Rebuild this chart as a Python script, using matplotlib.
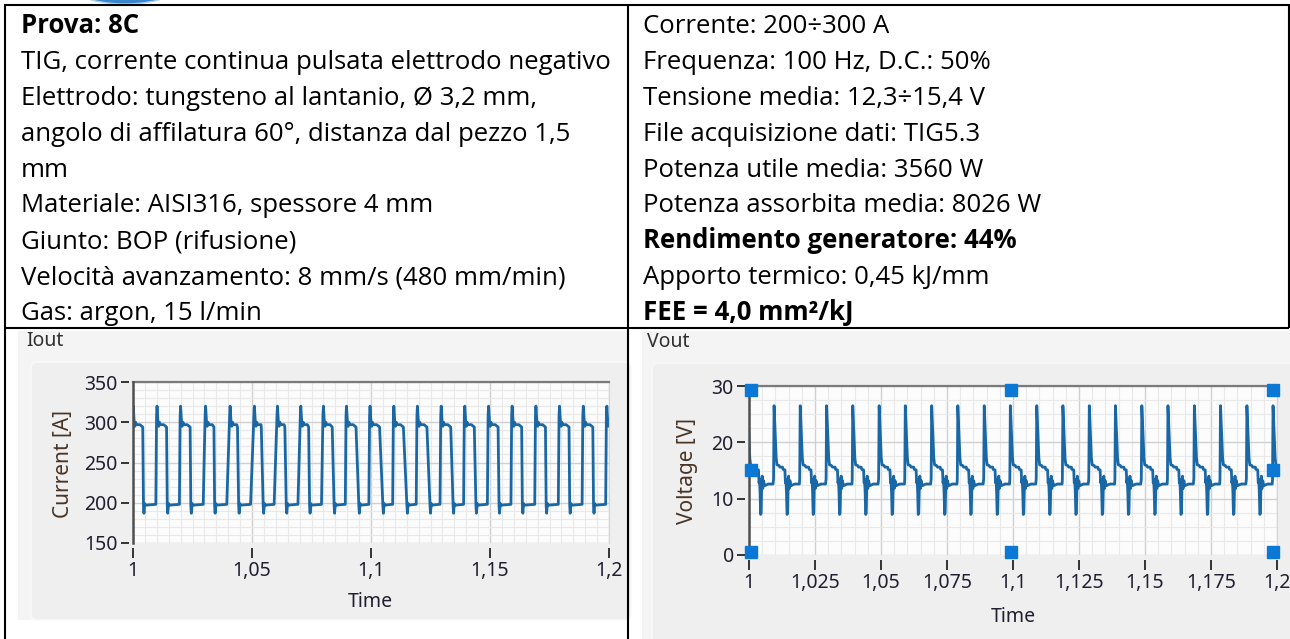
import matplotlib.pyplot as plt
from matplotlib.patches import Rectangle, FancyBboxPatch, Ellipse
from matplotlib.ticker import MultipleLocator

# --- table text (scheda prova) ---
left_lines = ["Prova: 8C",
              "TIG, corrente continua pulsata elettrodo negativo",
              "Elettrodo: tungsteno al lantanio, Ø 3,2 mm,",
              "angolo di affilatura 60°, distanza dal pezzo 1,5",
              "mm",
              "Materiale: AISI316, spessore 4 mm",
              "Giunto: BOP (rifusione)",
              "Velocità avanzamento: 8 mm/s (480 mm/min)",
              "Gas: argon, 15 l/min"]
left_bold = [True, False, False, False, False, False, False, False, False]
right_lines = ["Corrente: 200÷300 A",
               "Frequenza: 100 Hz, D.C.: 50%",
               "Tensione media: 12,3÷15,4 V",
               "File acquisizione dati: TIG5.3",
               "Potenza utile media: 3560 W",
               "Potenza assorbita media: 8026 W",
               "Rendimento generatore: 44%",
               "Apporto termico: 0,45 kJ/mm",
               "FEE = 4,0 mm²/kJ"]
right_bold = [False, False, False, False, False, False, True, False, True]

# --- waveforms ---
# start time of each pulse (100 Hz)
pulse_t = [0.9993, 1.0093, 1.0192, 1.0292, 1.0391, 1.0491, 1.0590, 1.0690, 1.0789, 1.0889,
           1.0988, 1.1088, 1.1187, 1.1287, 1.1386, 1.1486, 1.1585, 1.1685, 1.1784, 1.1884, 1.1983]
# how long each current edge takes (some look slanted)
cur_rise = [0.0003, 0.0003, 0.0003, 0.0008, 0.0012, 0.0014, 0.0012, 0.0010, 0.0006, 0.0003, 0.0003,
            0.0003, 0.0003, 0.0003, 0.0003, 0.0003, 0.0003, 0.0003, 0.0003, 0.0003, 0.0003]
cur_fall = [0.0003, 0.0003, 0.0003, 0.0003, 0.0005, 0.0008, 0.0006, 0.0004, 0.0008, 0.0012, 0.0014,
            0.0015, 0.0013, 0.0010, 0.0007, 0.0004, 0.0003, 0.0003, 0.0003, 0.0003, 0.0003]
# high part, time after the rise ends [s] / current [A]
cur_hi_dt = [0.0, 0.0002, 0.0006, 0.0009, 0.0012, 0.0016, 0.0030]
cur_hi_val = [308, 320, 300, 295, 300, 297, 297]
cur_fall_at = 0.0048     # fall starts this long after pulse start
cur_fall_top = 294
# low part, time after the fall ends
cur_lo_dt = [0.0, 0.0002, 0.0005, 0.0008]
cur_lo_val = [196, 187, 199, 197]
cur_base = 198

# voltage over one period, time after pulse start [s] / voltage [V]
volt_dt = [0.0, 0.0002, 0.0005, 0.0010, 0.0013, 0.0020, 0.0024, 0.0034, 0.0036, 0.0043, 0.0045,
           0.0047, 0.0049, 0.0051, 0.0053, 0.0055, 0.0057, 0.0059, 0.0062, 0.0066, 0.0080, 0.0098]
volt_val = [13.5, 26.5, 23.0, 17.2, 16.0, 15.9, 15.6, 15.6, 15.2, 15.1, 12.8,
            13.4, 11.0, 7.2, 7.4, 12.0, 14.0, 11.8, 13.2, 12.3, 12.6, 12.6]

cur_xticks = [1.0, 1.05, 1.1, 1.15, 1.2]
cur_xlabels = ['1', '1,05', '1,1', '1,15', '1,2']
cur_yticks = [150, 200, 250, 300, 350]
volt_xticks = [1.0, 1.025, 1.05, 1.075, 1.1, 1.125, 1.15, 1.175, 1.2]
volt_xlabels = ['1', '1,025', '1,05', '1,075', '1,1', '1,125', '1,15', '1,175', '1,2']
volt_yticks = [0, 10, 20, 30]

# build the traces pulse by pulse
t_cur, i_cur = [], []
for t0, r, f in zip(pulse_t, cur_rise, cur_fall):
    t_cur.append(t0 + 0.0003)
    i_cur.append(cur_base)
    up = t0 + 0.0003 + r
    for dt, v in zip(cur_hi_dt, cur_hi_val):
        if up + dt < t0 + cur_fall_at:
            t_cur.append(up + dt)
            i_cur.append(v)
    t_cur.append(t0 + cur_fall_at)
    i_cur.append(cur_fall_top)
    down = t0 + cur_fall_at + f
    for dt, v in zip(cur_lo_dt, cur_lo_val):
        t_cur.append(down + dt)
        i_cur.append(v)
    t_cur.append(t0 + 0.0098)
    i_cur.append(cur_base)

t_volt, v_volt = [], []
for t0 in pulse_t:
    for dt, v in zip(volt_dt, volt_val):
        t_volt.append(t0 + dt)
        v_volt.append(v)

W, H = 1290, 639
LINE = '#1a67a6'
TXT = '#221e30'
PFONT = 'Noto Sans'
TFONT = 'Open Sans'
PSIZE = 14

fig = plt.figure(figsize=(W / 100, H / 100), dpi=100)
bg = fig.add_axes([0, 0, 1, 1])
bg.set_xlim(0, W)
bg.set_ylim(H, 0)
bg.axis('off')

# bit of logo peeking in at the top
bg.add_patch(Ellipse((125, -22), 125, 52, fc='#3a86cc', ec='#a9cdec', lw=1))

# grey LabVIEW panels
bg.add_patch(Rectangle((18, 331), 609, 289, fc='#f4f4f4', ec='none'))
bg.add_patch(FancyBboxPatch((31, 362), 600, 258, boxstyle='round,pad=0,rounding_size=6',
                            fc='#efefef', ec='#fafafa', lw=1))
bg.add_patch(Rectangle((642, 331), 648, 308, fc='#f4f4f4', ec='none'))
bg.add_patch(FancyBboxPatch((652, 363), 650, 280, boxstyle='round,pad=0,rounding_size=6',
                            fc='#efefef', ec='#fafafa', lw=1))

# table borders
kw = dict(color='black', lw=1.5, solid_capstyle='butt')
bg.plot([4, 1289], [4.5, 4.5], **kw)
bg.plot([4.5, 4.5], [4, 639], **kw)
bg.plot([628, 628], [4, 639], **kw)
bg.plot([1288.5, 1288.5], [4, 328], **kw)
bg.plot([4, 1289], [328, 328], **kw)

# size the table font so the longest left line fills the cell like in the doc
fig.canvas.draw()
rend = fig.canvas.get_renderer()
probe = bg.text(0, 0, left_lines[1], fontsize=16, family=TFONT)
tsize = 16 * 592 / probe.get_window_extent(rend).width
probe.remove()

for k, (s, b) in enumerate(zip(left_lines, left_bold)):
    bg.text(21, 33 + 35.9 * k, s, fontsize=tsize, family=TFONT,
            fontweight='bold' if b else 'normal', va='baseline', color='black')
for k, (s, b) in enumerate(zip(right_lines, right_bold)):
    bg.text(643, 33 + 35.9 * k, s, fontsize=tsize, family=TFONT,
            fontweight='bold' if b else 'normal', va='baseline', color='black')

# panel captions / axis titles
bg.text(26, 341, 'Iout', fontsize=PSIZE, family=PFONT, color='#303030', va='center')
bg.text(647, 342, 'Vout', fontsize=PSIZE, family=PFONT, color='#303030', va='center')
bg.text(63, 464, 'Current [A]', fontsize=PSIZE + 1, family=PFONT, color='#4a3424',
        rotation=90, ha='center', va='center')
bg.text(687, 471, 'Voltage [V]', fontsize=PSIZE + 1, family=PFONT, color='#4a3424',
        rotation=90, ha='center', va='center')
bg.text(370, 602, 'Time', fontsize=PSIZE, family=PFONT, color=TXT, ha='center', va='center')
bg.text(1013, 617, 'Time', fontsize=PSIZE, family=PFONT, color=TXT, ha='center', va='center')


def box(x0, y0, x1, y1):
    return [x0 / W, 1 - y1 / H, (x1 - x0) / W, (y1 - y0) / H]


def style(ax, xmaj, xlabels, ymaj, xminor, yminor):
    ax.set_facecolor('#fcfcfc')
    ax.set_xticks(xmaj, xlabels)
    ax.set_yticks(ymaj)
    ax.xaxis.set_minor_locator(MultipleLocator(xminor))
    ax.yaxis.set_minor_locator(MultipleLocator(yminor))
    ax.grid(which='major', color='#d0d0d0', lw=1.0)
    ax.grid(which='minor', color='#e9e9e9', lw=0.8)
    ax.set_axisbelow(True)
    ax.spines['bottom'].set_position(('outward', 3.6))
    ax.spines['bottom'].set_visible(False)
    ax.spines['left'].set_position(('outward', 2.9))
    ax.spines['left'].set_visible(False)
    ax.spines['top'].set_color('#7a7a7a')
    ax.spines['top'].set_linewidth(1.6)
    ax.spines['right'].set_color('#d4d4d4')
    ax.plot([0, 0], [0, 1], transform=ax.transAxes, color='#505050', lw=1.8,
            clip_on=False, zorder=5)
    ax.tick_params(axis='x', which='major', direction='out', length=7, width=1.4,
                   pad=2.5, color='#333333', labelsize=PSIZE, labelcolor=TXT)
    ax.tick_params(axis='y', which='major', direction='out', length=5.5, width=1.4,
                   pad=2.5, color='#333333', labelsize=PSIZE, labelcolor=TXT)
    ax.tick_params(which='minor', length=0)
    for lab in ax.get_xticklabels() + ax.get_yticklabels():
        lab.set_family(PFONT)


ax1 = fig.add_axes(box(133, 382, 609, 543))
ax1.plot(t_cur, i_cur, color=LINE, lw=2.0)
ax1.set_xlim(1.0, 1.2)
ax1.set_ylim(150, 350)
style(ax1, cur_xticks, cur_xlabels, cur_yticks, 0.005, 10)

ax2 = fig.add_axes(box(749, 386, 1277, 555))
ax2.plot(t_volt, v_volt, color=LINE, lw=2.0)
ax2.set_xlim(1.0, 1.2)
ax2.set_ylim(0, 30)
style(ax2, volt_xticks, volt_xlabels, volt_yticks, 0.005, 2.5)

# selection handles on the Vout graph
ax2.plot([0.004, 0.497, 0.993, 0.004, 0.993, 0.004, 0.497, 0.993],
         [0.976, 0.976, 0.976, 0.503, 0.503, 0.018, 0.018, 0.018],
         's', ms=8.5, color='#0a78d4', transform=ax2.transAxes, clip_on=False, zorder=6)

fig.savefig('out.png', dpi=100)
